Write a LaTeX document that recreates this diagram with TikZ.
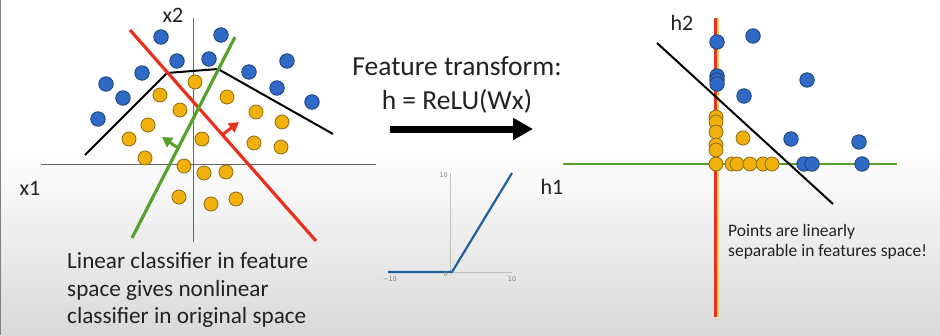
\documentclass[tikz,border=0pt]{standalone}
\usepackage{fontspec}
\setmainfont{Carlito}
\newfontfamily\tickfont{DejaVu Sans}
\usetikzlibrary{arrows.meta}
\definecolor{dotblue}{HTML}{2F6BC6}
\definecolor{blueedge}{HTML}{1E3F78}
\definecolor{dotgold}{HTML}{F2B10A}
\definecolor{goldedge}{HTML}{8A6A12}
\definecolor{sepred}{HTML}{E8321E}
\definecolor{sepgreen}{HTML}{58A02C}
\definecolor{relublue}{HTML}{1F5F9E}
\definecolor{ink}{HTML}{222222}

\begin{document}
\begin{tikzpicture}[x=1pt, y=-1pt, text=ink,
  bdot/.style={circle, draw=blueedge, fill=dotblue, line width=0.8pt, minimum size=14.5pt, inner sep=0pt},
  odot/.style={circle, draw=goldedge, fill=dotgold, line width=0.8pt, minimum size=14pt, inner sep=0pt},
  axisline/.style={gray!80!black, line width=1pt},
  lbl/.style={font=\fontsize{22}{26}\selectfont},
  sep/.style={line width=3.2pt},
  hint/.style={line width=3pt, -{Triangle[length=10pt, width=11pt]}},
  tick/.style={font=\tickfont\fontsize{6.5}{7}\selectfont, text=gray, inner sep=1pt}
]
  \useasboundingbox (0,0) rectangle (940,335);
  \fill[white] (0,0) rectangle (940,335);
  \shade[top color=white, bottom color=black!15] (0,150) rectangle (940,335);
  \draw[gray, line width=1pt] (0.5,0) -- (0.5,335);

  % original space
  \draw[axisline] (193,18) -- (193,242);
  \draw[axisline] (41,164) -- (376,164);
  \node[lbl] (x2) at (173,15) {x2};
  \node[lbl] (x1) at (30,188) {x1};
  \foreach \p [count=\i] in {(161,37),(221,35),(177,61),(209,59),(142,73),(106,84),
      (123,98),(98,119),(249,72),(287,61),(277,88),(312,102)}
    \node[bdot] (lb\i) at \p {};
  \foreach \p [count=\i] in {(195,82),(160,95),(227,97),(180,110),(256,112),(282,122),
      (148,125),(129,139),(202,139),(254,143),(281,147),(145,158),(184,166),(204,173),
      (226,172),(179,197),(211,204),(236,199)}
    \node[odot] (lo\i) at \p {};
  \draw[line width=2pt] (85,155) -- (167,73) -- (218,69) -- (333,134);
  \draw[sep, sepred] (130,30) -- (316,241);
  \draw[sep, sepgreen] (235,37) -- (132,238);
  \draw[hint, sepred] (222,135) -- (239,122);
  \draw[hint, sepgreen] (178,148) -- (162,137);
  \node[anchor=west, align=left, inner sep=0pt, font=\fontsize{23.2}{27.5}\selectfont]
    (note) at (67,290) {Linear classifier in feature\\space gives nonlinear\\classifier in original space};

  % transform
  \node[align=center, font=\fontsize{27.5}{34}\selectfont] (ft) at (457,85)
    {Feature transform:\\h = ReLU(Wx)};
  \coordinate (fa) at (390,129);
  \coordinate (fb) at (533,129);
  \draw[line width=7pt, -{Triangle[length=20pt, width=21pt]}] (fa) -- (fb);
  \draw[gray!50, line width=0.6pt] (450,173) -- (450,272);
  \draw[gray!50, line width=0.6pt] (388,272) -- (512,272);
  \draw[relublue, line width=2.2pt, line join=round] (388,272) -- (452,272) -- (512,173);
  \node[tick, anchor=east] (t1) at (449,175) {10};
  \node[tick, anchor=east] (t2) at (449,274) {0};
  \node[tick] (t3) at (390,279) {−10};
  \node[tick] (t4) at (512,279) {10};

  % feature space
  \draw[sepgreen, line width=2.5pt] (563,164) -- (897,164);
  \draw[dotgold!60, line width=2pt] (717.5,18) -- (717.5,317);
  \draw[sepred, line width=2.5pt] (715.5,18) -- (715.5,317);
  \node[lbl] (h2) at (682,23) {h2};
  \node[lbl] (h1) at (552,187) {h1};
  \foreach \p [count=\i] in {(717,42),(753,36),(717,76),(717,80),(717,84),(807,80),
      (744,96),(791,139),(859,142),(804,164),(812,164),(862,164)}
    \node[bdot] (rb\i) at \p {};
  \foreach \p [count=\i] in {(716,117),(716,122),(716,132),(716,145),(716,150),(716,164),
      (732,164),(737,164),(750,164),(763,164),(772,164),(743,138)}
    \node[odot] (ro\i) at \p {};
  \draw[line width=2pt] (657,43) -- (833,204);
  \node[anchor=west, align=left, inner sep=0pt, font=\fontsize{17.5}{20}\selectfont]
    (pts) at (728,242) {Points are linearly\\separable in features space!};
\end{tikzpicture}
\end{document}
